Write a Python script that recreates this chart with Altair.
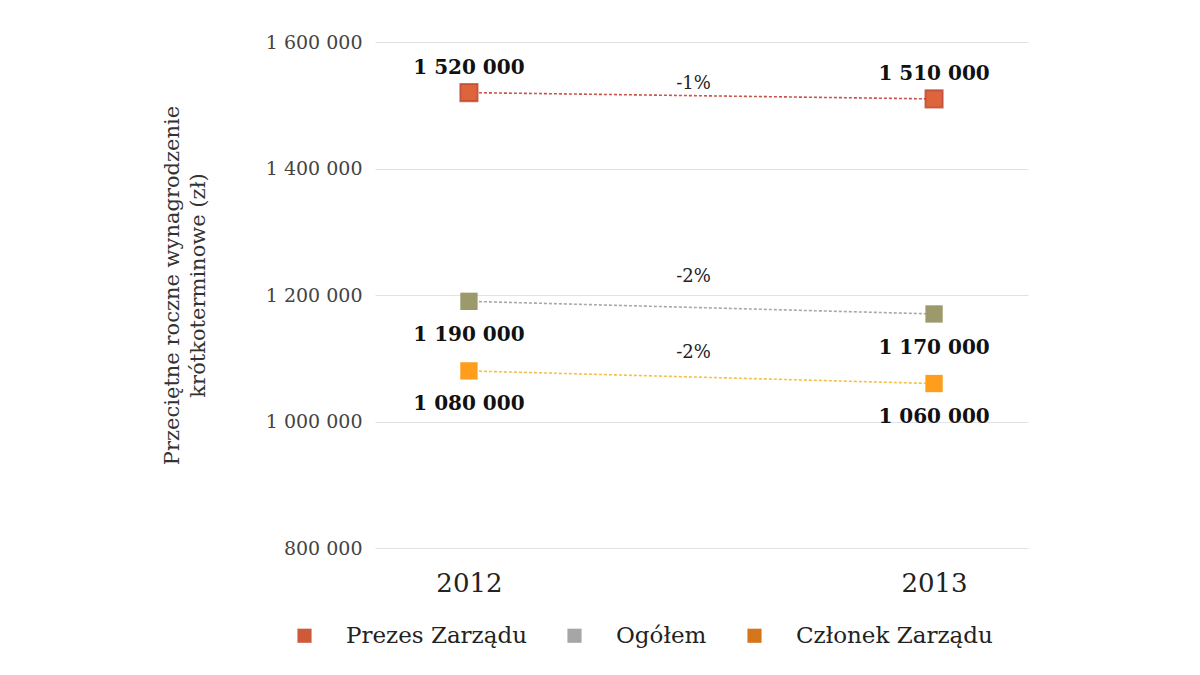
import altair as alt
import pandas as pd

years = [2012, 2013]
series = ["Prezes Zarządu", "Ogółem", "Członek Zarządu"]
prezes = [1520000, 1510000]
ogolem = [1190000, 1170000]
czlonek = [1080000, 1060000]
changes = ["-1%", "-2%", "-2%"]
y_ticks = [800000, 1000000, 1200000, 1400000, 1600000]

marker_fill = ["#dc653b", "#9c9a6b", "#ff9d1c"]
line_colors = ["#c9524b", "#a8a8a8", "#f4c141"]
legend_colors = ["#cf5a3a", "#a6a6a6", "#d5751c"]

FONT = "DejaVu Serif"

rows = []
for s, vals in zip(series, [prezes, ogolem, czlonek]):
    for yr, v in zip(years, vals):
        rows.append({"series": s, "year": yr, "value": v,
                     "label": f"{v:,}".replace(",", " ")})
df = pd.DataFrame(rows)

mid_rows = []
for s, vals, ch in zip(series, [prezes, ogolem, czlonek], changes):
    mid_rows.append({"series": s, "year": sum(years) / 2, "value": sum(vals) / 2, "change": ch})
mid = pd.DataFrame(mid_rows)

x_enc = alt.X("year:Q",
              scale=alt.Scale(domain=[2011.798, 2013.202], nice=False, zero=False),
              axis=alt.Axis(values=years, format="d", grid=False, domain=False, ticks=False,
                            labelFontSize=26, labelPadding=22, labelFont=FONT,
                            labelColor="#222", title=None))
y_enc = alt.Y("value:Q",
              scale=alt.Scale(domain=[800000, 1600000], nice=False, zero=False),
              axis=alt.Axis(values=y_ticks,
                            labelExpr="replace(format(datum.value, ','), regexp(',', 'g'), ' ')",
                            domain=False, ticks=False, grid=True, gridColor="#e2e2e2",
                            labelFontSize=19, labelFont=FONT, labelColor="#444", labelPadding=13,
                            title=["Przeciętne roczne wynagrodzenie", "krótkoterminowe (zł)"],
                            titleFont=FONT, titleFontSize=21, titleFontWeight="normal",
                            titleColor="#333", titleX=-203, titleY=243, titleAngle=-90,
                            titleAlign="center", titleBaseline="middle", titleLineHeight=26))

base = alt.Chart(df)

lines = base.mark_line(strokeDash=[3, 2], strokeWidth=1.6).encode(
    x=x_enc, y=y_enc,
    detail="series:N",
    stroke=alt.Stroke("series:N", scale=alt.Scale(domain=series, range=line_colors), legend=None),
)

markers = base.mark_square(size=300, opacity=1, strokeWidth=0).encode(
    x="year:Q", y="value:Q",
    fill=alt.Fill("series:N", scale=alt.Scale(domain=series, range=marker_fill), legend=None),
)

outline = base.transform_filter(alt.datum.series == series[0]).mark_square(
    size=300, filled=False, stroke="#b53a2c", strokeWidth=1.8).encode(x="year:Q", y="value:Q")

legend_layer = base.mark_square(size=200, opacity=0).encode(
    x="year:Q", y="value:Q",
    color=alt.Color("series:N", scale=alt.Scale(domain=series, range=legend_colors),
                    legend=alt.Legend(orient="none", legendX=-82, legendY=582,
                                      direction="horizontal", title=None,
                                      symbolType="square", symbolSize=200, symbolOpacity=1,
                                      labelFont=FONT, labelFontSize=23, labelColor="#222",
                                      labelLimit=0, labelOffset=30, columnPadding=36, padding=0)),
)

above = base.transform_filter(alt.datum.series == series[0]).mark_text(
    font=FONT, fontSize=20, fontWeight="bold", color="#111", dy=-25).encode(
    x="year:Q", y="value:Q", text="label:N")

below1 = base.transform_filter(alt.datum.series == series[1]).mark_text(
    font=FONT, fontSize=20, fontWeight="bold", color="#111", dy=34).encode(
    x="year:Q", y="value:Q", text="label:N")

below2 = base.transform_filter(alt.datum.series == series[2]).mark_text(
    font=FONT, fontSize=20, fontWeight="bold", color="#111", dy=33).encode(
    x="year:Q", y="value:Q", text="label:N")

mbase = alt.Chart(mid)
pct1 = mbase.transform_filter(alt.datum.series == series[0]).mark_text(
    font=FONT, fontSize=18, color="#222", dx=-8, dy=-12).encode(
    x="year:Q", y="value:Q", text="change:N")
pct2 = mbase.transform_filter(alt.datum.series == series[1]).mark_text(
    font=FONT, fontSize=18, color="#222", dx=-8, dy=-31).encode(
    x="year:Q", y="value:Q", text="change:N")
pct3 = mbase.transform_filter(alt.datum.series == series[2]).mark_text(
    font=FONT, fontSize=18, color="#222", dx=-8, dy=-24).encode(
    x="year:Q", y="value:Q", text="change:N")

chart = alt.layer(lines, legend_layer, markers, outline, above, below1, below2, pct1, pct2, pct3).resolve_scale(
    stroke="independent"
).properties(
    width=653, height=506,
    autosize=alt.AutoSizeParams(type="none"),
    padding={"left": 367, "top": 34, "right": 150, "bottom": 120},
    background="white",
).configure_view(stroke=None)

chart.save("out.html", embed_options={"renderer": "svg", "actions": False})
